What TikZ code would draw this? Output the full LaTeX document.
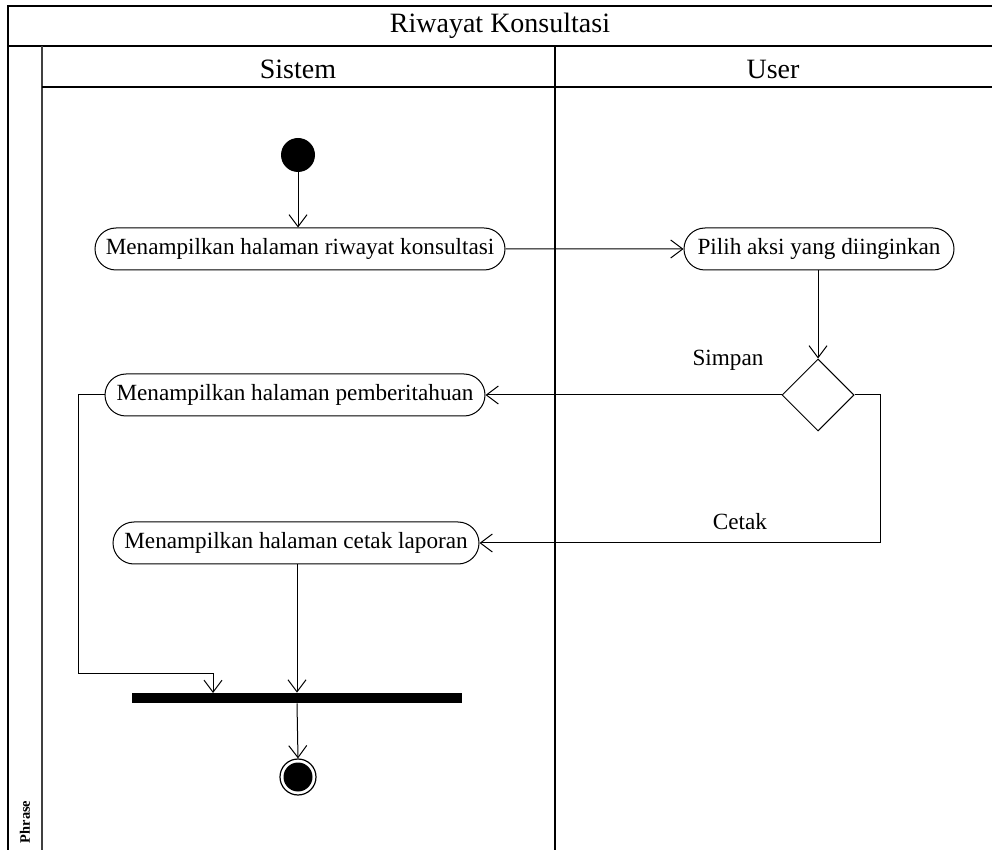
\documentclass[tikz,border=0pt]{standalone}
\usepackage{fontspec}
\setmainfont{Liberation Serif}
\usetikzlibrary{arrows.meta,shapes.geometric,shapes.misc}

\begin{document}
\begin{tikzpicture}[x=0.5pt,y=-0.5pt,
  txt/.style={font=\fontsize{11.6}{13}\selectfont},
  head/.style={font=\fontsize{14}{16}\selectfont},
  act/.style={draw, rounded rectangle, minimum height=21pt, inner xsep=3pt, inner ysep=0pt, line width=0.5pt, txt},
  flow/.style={draw, line width=0.5pt, -{Straight Barb[length=6pt,width=9pt,line width=0.5pt]}},
  frameline/.style={line width=1pt},
  laneline/.style={line width=0.6pt},
]
\useasboundingbox (0,0) rectangle (992,850);

% swimlane frame
\draw[frameline] (992,6) -- (8,6) -- (8,850);
\draw[frameline] (8,46) -- (992,46);
\draw[line width=1.3pt, black!75] (42,46) -- (42,850);
\draw[laneline] (42,87) -- (992,87);
\draw[laneline] (555,46) -- (555,850);

\node[head] (title) at (500,26) {Riwayat Konsultasi};
\node[head] (laneA) at (298,69) {Sistem};
\node[head] (laneB) at (773,69) {User};
\node[rotate=90, font=\bfseries\fontsize{7.2}{8}\selectfont] (phrase) at (25,822) {Phrase};

% activity nodes
\node[circle, fill=black, minimum size=17pt, inner sep=0pt] (start) at (298,155) {};
\node[act, minimum width=211pt] (n1) at (300,249) {Menampilkan halaman riwayat konsultasi};
\node[act, minimum width=141pt] (n2) at (819,249) {Pilih aksi yang diinginkan};
\node[diamond, draw, line width=0.5pt, aspect=1, minimum size=36pt, inner sep=0pt] (dec) at (818,395) {};
\node[act, minimum width=196pt] (n3) at (295,395) {Menampilkan halaman pemberitahuan};
\node[act, minimum width=189pt] (n4) at (296,543) {Menampilkan halaman cetak laporan};
\node[fill=black, minimum width=165pt, minimum height=5pt, inner sep=0pt] (bar) at (297,698) {};
\node[circle, draw, line width=0.6pt, minimum size=18pt, inner sep=0pt] (end) at (298,777) {};
\node[circle, fill=black, minimum size=14.5pt, inner sep=0pt] (endcore) at (298,777) {};

% guard labels
\node[txt] (simpan) at (728,360) {Simpan};
\node[txt] (cetak) at (740,522) {Cetak};

% bend points
\coordinate (r1) at (880,395);
\coordinate (l1) at (78,395);
\coordinate (l2) at (78,673);
\coordinate (l3) at (213,673);
\coordinate (barin) at (213,693);

% control flow
\draw[flow] (start) -- (start |- n1.north);
\draw[flow] (n1) -- (n2);
\draw[flow] (dec.north |- n2.south) -- (dec.north);
\draw[flow] (dec.west) -- (n3.east);
\draw[flow] (dec.east) -- (r1) |- (n4.east);
\draw[flow] (n3.west) -- (l1) -- (l2) -- (l3) -- (barin);
\draw[flow] (n4.south -| bar.north) -- (bar.north);
\draw[flow] (bar.south) -- (end.north);
\end{tikzpicture}
\end{document}
